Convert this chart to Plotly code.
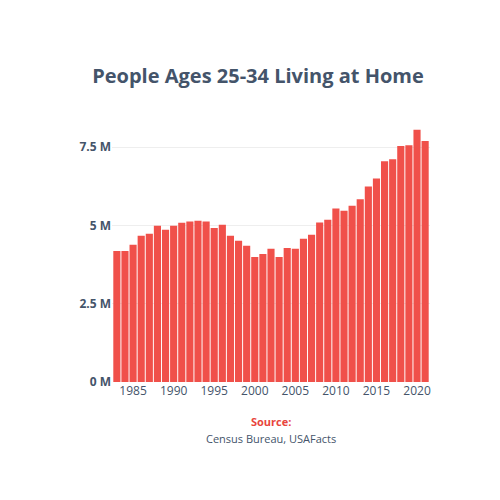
import plotly.graph_objects as go

years = list(range(1983, 2022))
values = [4.18, 4.18, 4.38, 4.67, 4.73, 4.99, 4.86, 4.99, 5.08, 5.12, 5.15, 5.12, 4.92, 5.02,
          4.67, 4.51, 4.35, 3.99, 4.09, 4.25, 3.99, 4.28, 4.25, 4.57, 4.70, 5.09, 5.18, 5.54,
          5.47, 5.63, 5.83, 6.24, 6.50, 7.05, 7.11, 7.53, 7.56, 8.05, 7.69]
values_m = [v * 1e6 for v in values]
tick_vals = [0, 2.5e6, 5e6, 7.5e6]
tick_text = ["0 M", "2.5 M", "5 M", "7.5 M"]

fig = go.Figure(go.Bar(x=years, y=values_m, marker_color="#f0504a", marker_line_width=0))
fig.update_layout(
    width=500, height=500, bargap=0.12,
    paper_bgcolor="white", plot_bgcolor="white",
    margin=dict(l=104, r=78, t=114, b=126),
    font=dict(family="Open Sans", color="#44546a"),
    title=dict(text="<b>People Ages 25-34 Living at Home</b>", x=0.5, xanchor="center",
               y=0.865, yanchor="middle", font=dict(size=20, color="#44546a")),
    showlegend=False,
    annotations=[
        dict(text="<b>Source:</b>", x=0.5, y=-0.19, xref="paper", yref="paper",
             showarrow=False, font=dict(size=11, color="#e8453c")),
        dict(text="Census Bureau, USAFacts", x=0.5, y=-0.255, xref="paper", yref="paper",
             showarrow=False, font=dict(size=11, color="#44546a")),
    ],
)
fig.update_xaxes(tickvals=[1985, 1990, 1995, 2000, 2005, 2010, 2015, 2020],
                 tickfont=dict(size=12, color="#44546a", family="Open Sans"),
                 showgrid=False, ticks="", range=[1982.4, 2021.6],
                 tickprefix="<b>", ticksuffix="</b>")
fig.update_yaxes(tickvals=tick_vals, ticktext=["<b>" + t + "</b>" for t in tick_text],
                 range=[0, 8.3e6],
                 tickfont=dict(size=12, color="#44546a", family="Open Sans"),
                 showgrid=True, gridcolor="#eeeeee", zeroline=False, ticksuffix="   ")
fig.write_html("out.html")
